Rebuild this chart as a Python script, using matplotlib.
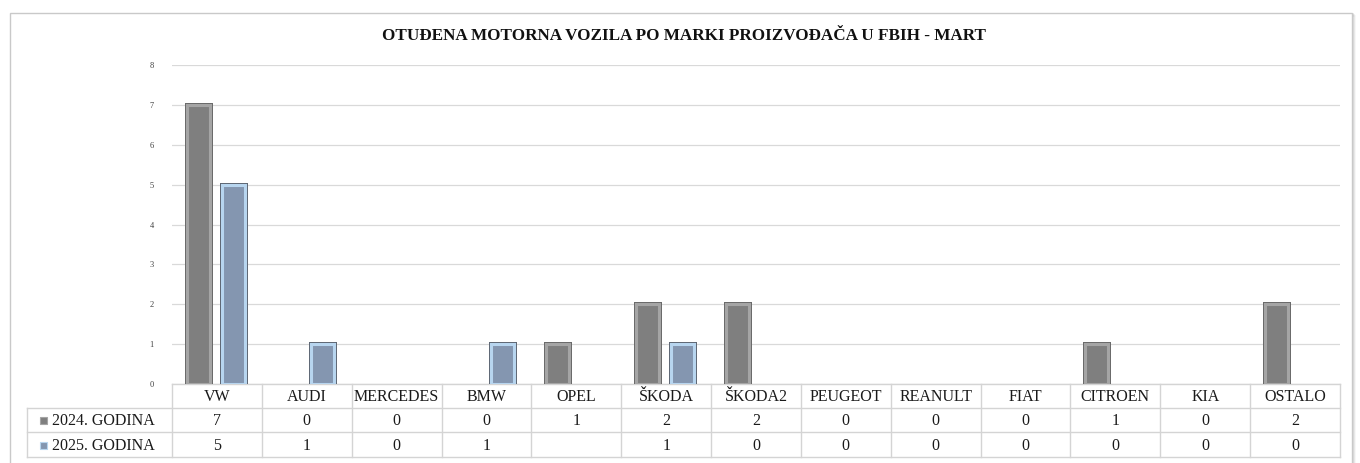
import matplotlib
matplotlib.use("Agg")
import matplotlib.pyplot as plt
import matplotlib.patheffects as pe
from matplotlib.patches import Rectangle
import matplotlib.transforms as mtransforms
import numpy as np

categories = ["VW", "AUDI", "MERCEDES", "BMW", "OPEL", "ŠKODA", "ŠKODA2",
              "PEUGEOT", "REANULT", "FIAT", "CITROEN", "KIA", "OSTALO"]
series_names = ["2024. GODINA", "2025. GODINA"]
values_2024 = [7, 0, 0, 0, 1, 2, 2, 0, 0, 0, 1, 0, 2]
values_2025 = [5, 1, 0, 1, None, 1, 0, 0, 0, 0, 0, 0, 0]
y_ticks = [0, 1, 2, 3, 4, 5, 6, 7, 8]
title = "OTUĐENA MOTORNA VOZILA PO MARKI PROIZVOĐAČA U FBIH - MART"

W, H = 1360, 463
fig = plt.figure(figsize=(W / 100, H / 100), dpi=100)
fig.patch.set_facecolor("white")
plt.rcParams["font.family"] = ["Liberation Serif", "DejaVu Serif"]

# outer frame with soft shadow
frame_ax = fig.add_axes([0, 0, 1, 1])
frame_ax.set_xlim(0, W)
frame_ax.set_ylim(H, 0)
frame_ax.axis("off")
for i, a in enumerate([0.10, 0.07, 0.04]):
    frame_ax.add_patch(Rectangle((10 + i + 1, 13 + i + 1), 1342, 470, fill=False,
                                 edgecolor=(0, 0, 0, a), lw=1.2))
frame_ax.add_patch(Rectangle((10, 13), 1342, 470, facecolor="white",
                             edgecolor="#c9c9c9", lw=1.0))

x0, x1 = 172, 1340
y_top, y_zero = 65, 384
ax = fig.add_axes([x0 / W, (H - y_zero) / H, (x1 - x0) / W, (y_zero - y_top) / H])
ax.set_facecolor("none")
n = len(categories)
x = np.arange(n)
ax.set_xlim(-0.5, n - 0.5)
ax.set_ylim(0, 8)
ax.set_yticks(y_ticks)
ax.set_yticklabels([str(t) for t in y_ticks], fontsize=6, color="#404040")
ax.tick_params(axis="y", length=0, pad=13)
ax.set_xticks([])
for s in ax.spines.values():
    s.set_visible(False)
ax.grid(axis="y", color="#d9d9d9", lw=0.9)
ax.set_axisbelow(True)

bw = 0.255
offs = [-0.21, 0.18]
styles = [
    dict(face="#7f7f7f", band="#a5a5a5", edge="#6a6a6a"),
    dict(face="#8496b0", band="#b7d5ef", edge="#5e6673"),
]
for vals, off, st in zip([values_2024, values_2025], offs, styles):
    v = np.array([np.nan if (t is None or t == 0) else t for t in vals], dtype=float)
    bars = ax.bar(x + off, v, width=bw, color=st["face"], edgecolor=st["band"],
                  lw=2.2, zorder=3)
    for b in bars:
        b.set_path_effects([pe.Stroke(linewidth=3.6, foreground=st["edge"]), pe.Normal()])

# data table below the axes
tr = mtransforms.blended_transform_factory(ax.transData, frame_ax.transData)
row_y = [384, 408, 432, 457]
grid_c = "#d4d4d4"
lab_left = 27
frame_ax.plot([x0, x1], [row_y[0], row_y[0]], color=grid_c, lw=1.0)
for yy in row_y[1:]:
    frame_ax.plot([lab_left, x1], [yy, yy], color=grid_c, lw=1.0)
frame_ax.plot([lab_left, lab_left], [row_y[1], row_y[3]], color=grid_c, lw=1.0)
for k in range(n + 1):
    ax.plot([k - 0.5, k - 0.5], [row_y[0], row_y[3]], color=grid_c, lw=1.0,
            transform=tr, clip_on=False)

fs = 11.5
for k, c in enumerate(categories):
    ax.text(k, (row_y[0] + row_y[1]) / 2 + 1, c, transform=tr, ha="center", va="center",
            fontsize=fs, color="#1a1a1a", clip_on=False)
for r, vals in enumerate([values_2024, values_2025]):
    yc = (row_y[r + 1] + row_y[r + 2]) / 2 + 1
    for k, v in enumerate(vals):
        if v is not None:
            ax.text(k, yc, str(v), transform=tr, ha="center", va="center",
                    fontsize=fs, color="#1a1a1a", clip_on=False)
    frame_ax.add_patch(Rectangle((40, yc - 4), 7, 7, facecolor=styles[r]["face"],
                                 edgecolor=styles[r]["band"], lw=0.8))
    frame_ax.text(52, yc, series_names[r], ha="left", va="center", fontsize=fs,
                  color="#1a1a1a")

fig.text(684 / W, (H - 36) / H, title, ha="center", va="center", fontsize=12.3,
         fontweight="bold", color="#111111")

fig.savefig("out.png", dpi=100, facecolor="white")
